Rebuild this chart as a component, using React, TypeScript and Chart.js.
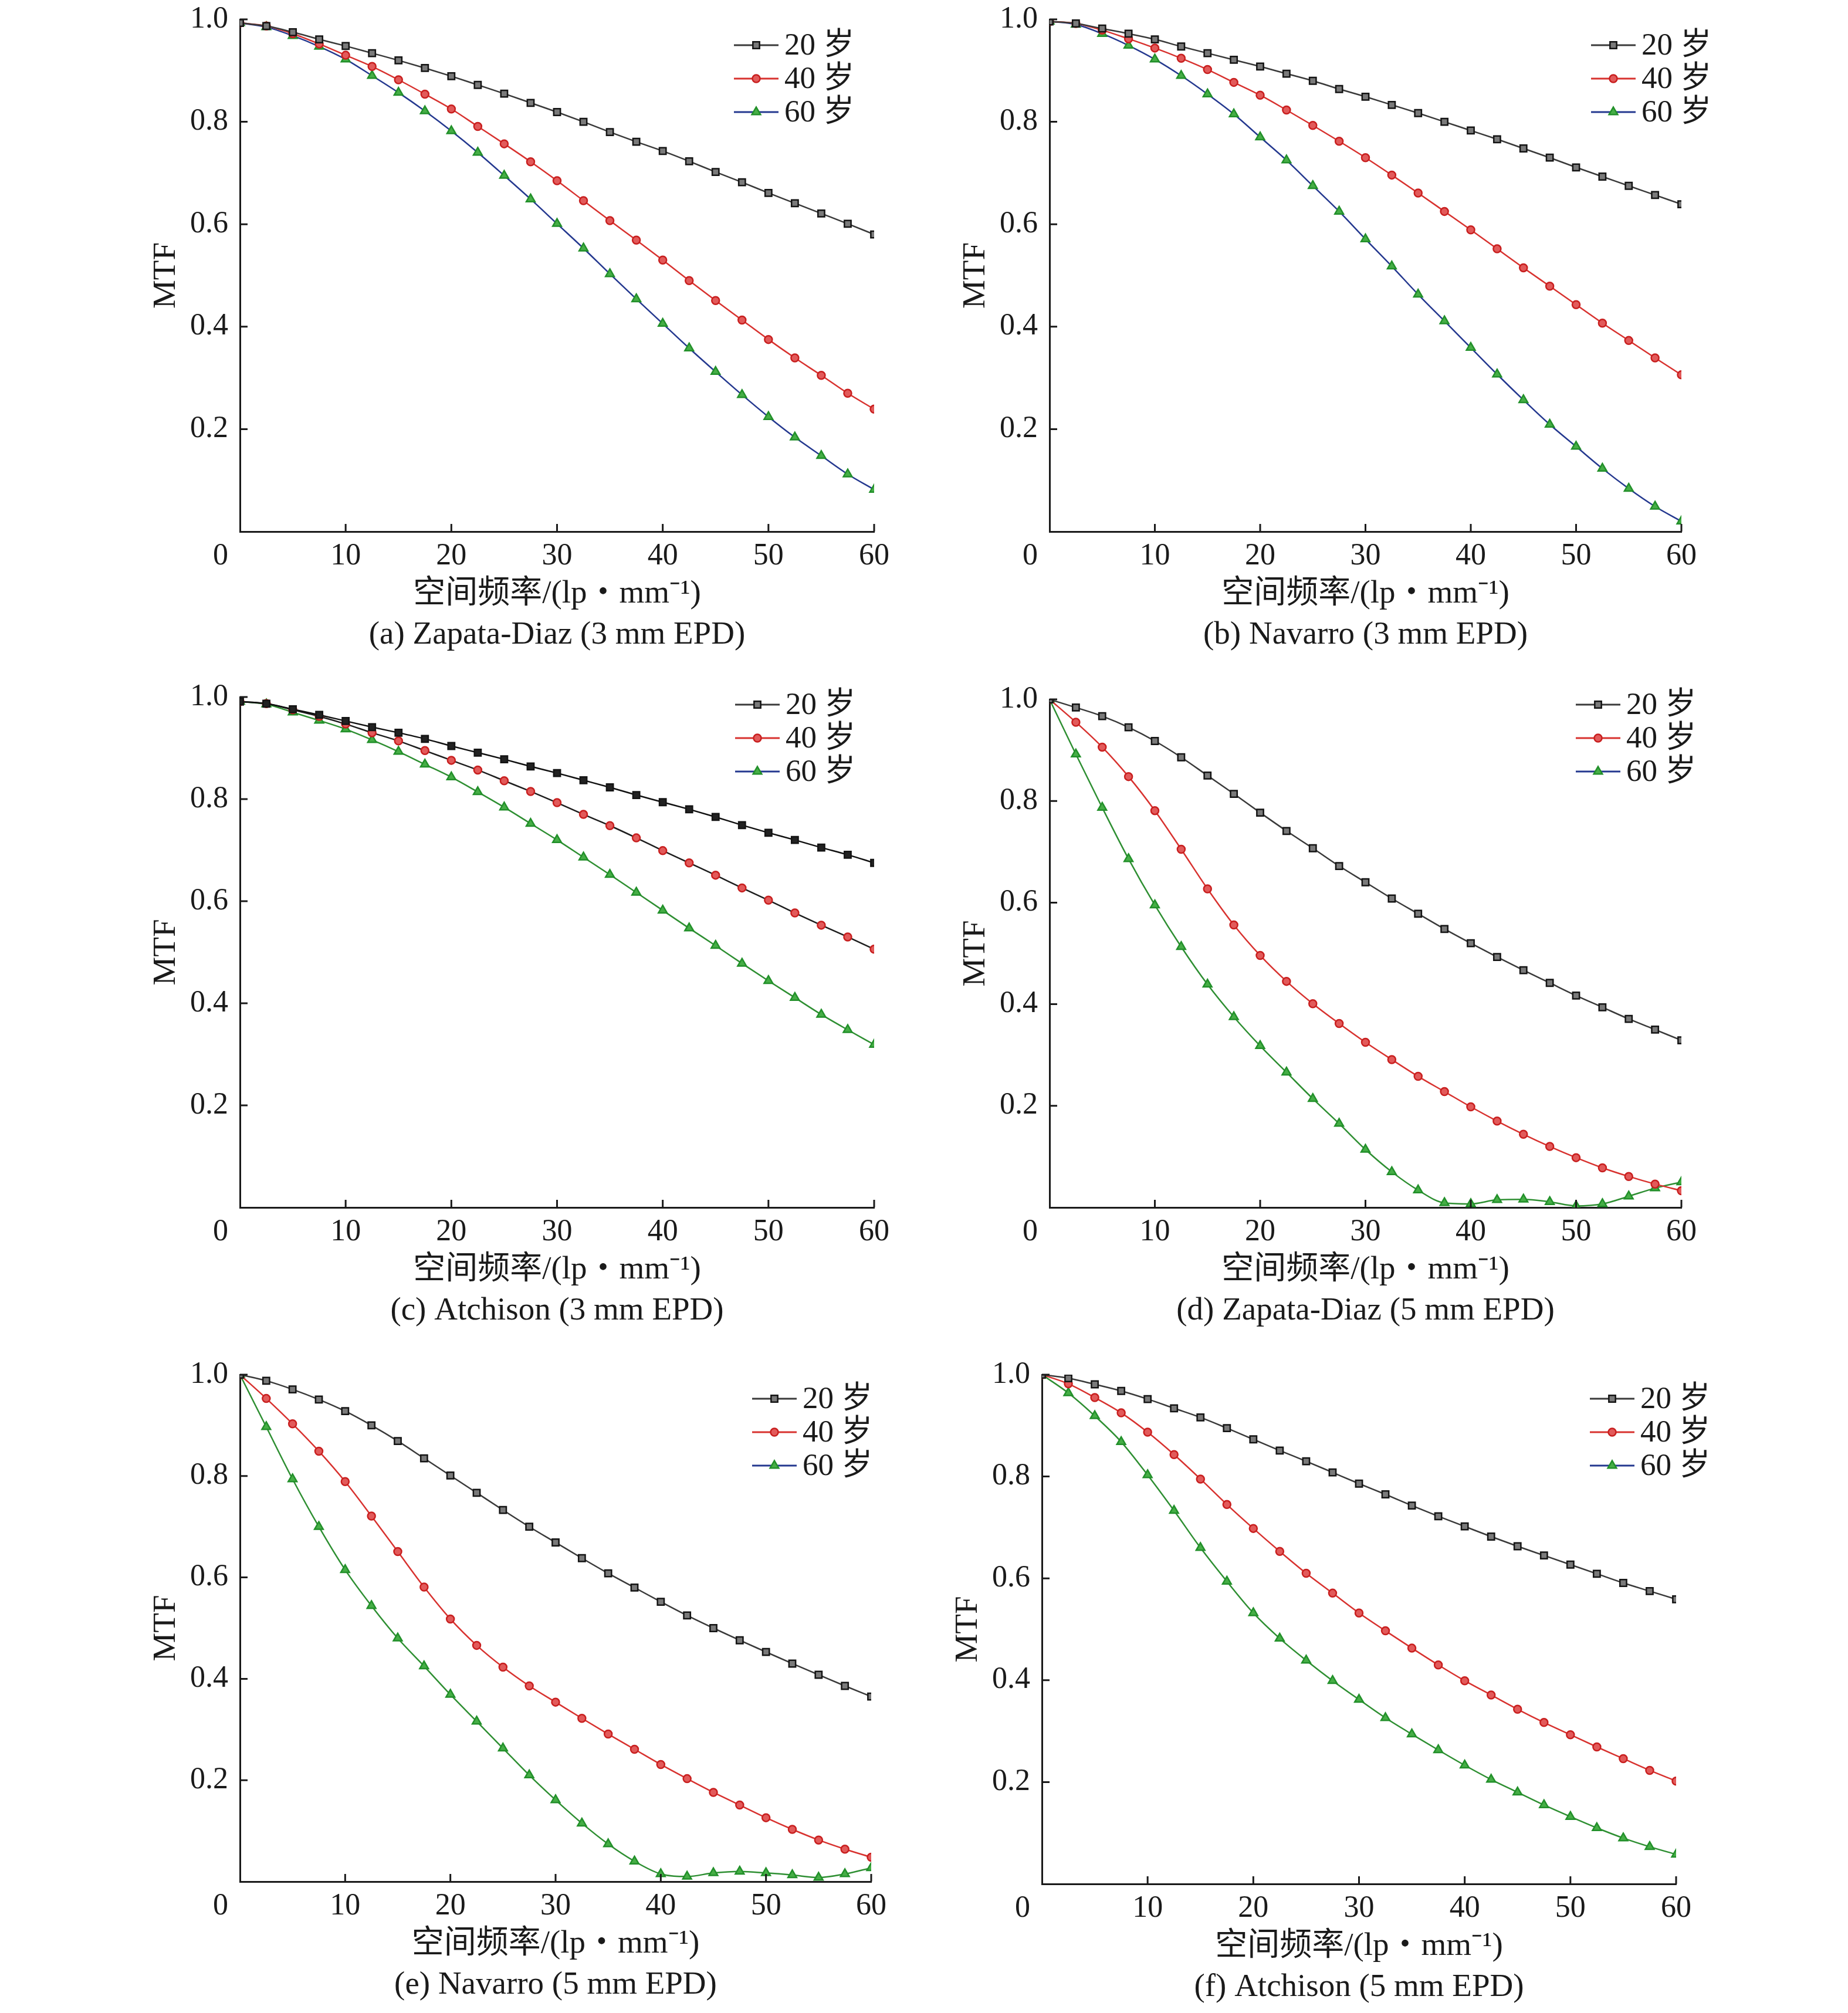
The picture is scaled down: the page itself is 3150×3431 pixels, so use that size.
import { useEffect, useRef } from 'react';
import { Chart, registerables } from 'chart.js';
import { drawPoint } from 'chart.js/helpers';

Chart.register(...registerables);

// spatial frequency samples (lp/mm)
const freq = [0, 2.5, 5, 7.5, 10, 12.5, 15, 17.5, 20, 22.5, 25, 27.5, 30, 32.5, 35, 37.5, 40, 42.5, 45, 47.5, 50, 52.5, 55, 57.5, 60];
const ageLabels = ['20 岁', '40 岁', '60 岁'];
const xTitle = '空间频率/(lp・mm⁻¹)';
const yTitle = 'MTF';

// (a) Zapata-Diaz 3 mm
const zapata3Age20 = [0.993, 0.987, 0.975, 0.961, 0.948, 0.934, 0.920, 0.905, 0.889, 0.872, 0.855, 0.837, 0.819, 0.800, 0.780, 0.761, 0.743, 0.723, 0.702, 0.682, 0.661, 0.641, 0.621, 0.601, 0.580];
const zapata3Age40 = [0.993, 0.987, 0.972, 0.952, 0.930, 0.908, 0.882, 0.854, 0.825, 0.791, 0.757, 0.722, 0.685, 0.646, 0.607, 0.569, 0.530, 0.490, 0.451, 0.413, 0.375, 0.339, 0.305, 0.270, 0.239];
const zapata3Age60 = [0.993, 0.985, 0.968, 0.947, 0.922, 0.890, 0.857, 0.821, 0.782, 0.740, 0.695, 0.649, 0.601, 0.553, 0.503, 0.454, 0.406, 0.358, 0.312, 0.267, 0.224, 0.184, 0.148, 0.112, 0.082];

// (b) Navarro 3 mm
const navarro3Age20 = [0.996, 0.992, 0.982, 0.972, 0.961, 0.947, 0.934, 0.921, 0.908, 0.894, 0.880, 0.864, 0.849, 0.833, 0.817, 0.800, 0.783, 0.766, 0.748, 0.730, 0.711, 0.693, 0.675, 0.657, 0.639];
const navarro3Age40 = [0.996, 0.992, 0.979, 0.962, 0.944, 0.924, 0.902, 0.877, 0.852, 0.823, 0.793, 0.762, 0.730, 0.696, 0.661, 0.625, 0.589, 0.552, 0.515, 0.479, 0.443, 0.407, 0.373, 0.339, 0.306];
const navarro3Age60 = [0.996, 0.990, 0.972, 0.949, 0.922, 0.890, 0.854, 0.815, 0.770, 0.725, 0.675, 0.625, 0.571, 0.518, 0.463, 0.411, 0.359, 0.307, 0.257, 0.209, 0.166, 0.123, 0.084, 0.049, 0.020];

// (c) Atchison 3 mm
const atchison3Age20 = [0.991, 0.987, 0.976, 0.965, 0.953, 0.941, 0.930, 0.918, 0.904, 0.891, 0.878, 0.864, 0.851, 0.837, 0.823, 0.808, 0.794, 0.780, 0.765, 0.749, 0.734, 0.720, 0.705, 0.691, 0.675];
const atchison3Age40 = [0.991, 0.987, 0.975, 0.962, 0.947, 0.930, 0.914, 0.895, 0.876, 0.857, 0.836, 0.815, 0.793, 0.770, 0.748, 0.724, 0.699, 0.675, 0.651, 0.626, 0.602, 0.577, 0.553, 0.530, 0.506];
const atchison3Age60 = [0.991, 0.986, 0.970, 0.954, 0.937, 0.916, 0.893, 0.868, 0.843, 0.814, 0.784, 0.752, 0.720, 0.686, 0.652, 0.617, 0.582, 0.547, 0.513, 0.478, 0.444, 0.411, 0.378, 0.348, 0.319];

// (d) Zapata-Diaz 5 mm
const zapata5Age20 = [1.0, 0.984, 0.967, 0.945, 0.918, 0.886, 0.850, 0.814, 0.777, 0.741, 0.707, 0.672, 0.640, 0.608, 0.578, 0.548, 0.520, 0.493, 0.467, 0.442, 0.417, 0.394, 0.371, 0.350, 0.329];
const zapata5Age40 = [1.0, 0.955, 0.906, 0.848, 0.781, 0.705, 0.627, 0.556, 0.496, 0.445, 0.401, 0.362, 0.325, 0.291, 0.258, 0.228, 0.198, 0.170, 0.144, 0.120, 0.098, 0.078, 0.061, 0.046, 0.033];
const zapata5Age60 = [1.0, 0.892, 0.787, 0.686, 0.595, 0.513, 0.439, 0.375, 0.318, 0.266, 0.214, 0.165, 0.114, 0.070, 0.034, 0.009, 0.007, 0.015, 0.016, 0.011, 0.003, 0.007, 0.022, 0.038, 0.050];

// (e) Navarro 5 mm
const navarro5Age20 = [1.0, 0.988, 0.971, 0.951, 0.928, 0.900, 0.869, 0.835, 0.801, 0.767, 0.733, 0.700, 0.669, 0.638, 0.608, 0.580, 0.552, 0.525, 0.500, 0.476, 0.453, 0.430, 0.408, 0.386, 0.365];
const navarro5Age40 = [1.0, 0.953, 0.903, 0.849, 0.789, 0.721, 0.651, 0.581, 0.518, 0.466, 0.423, 0.386, 0.354, 0.322, 0.291, 0.261, 0.231, 0.203, 0.176, 0.151, 0.126, 0.103, 0.082, 0.064, 0.048];
const navarro5Age60 = [1.0, 0.897, 0.794, 0.700, 0.615, 0.544, 0.480, 0.425, 0.369, 0.316, 0.263, 0.210, 0.161, 0.115, 0.074, 0.040, 0.015, 0.010, 0.017, 0.020, 0.017, 0.013, 0.008, 0.015, 0.027];

// (f) Atchison 5 mm
const atchison5Age20 = [1.0, 0.993, 0.981, 0.968, 0.952, 0.934, 0.916, 0.895, 0.873, 0.851, 0.830, 0.808, 0.786, 0.765, 0.743, 0.722, 0.702, 0.682, 0.663, 0.645, 0.627, 0.609, 0.591, 0.575, 0.559];
const atchison5Age40 = [1.0, 0.982, 0.955, 0.925, 0.887, 0.843, 0.795, 0.745, 0.698, 0.653, 0.610, 0.571, 0.532, 0.497, 0.463, 0.430, 0.399, 0.371, 0.343, 0.317, 0.293, 0.269, 0.246, 0.223, 0.202];
const atchison5Age60 = [1.0, 0.964, 0.919, 0.868, 0.803, 0.733, 0.660, 0.594, 0.532, 0.482, 0.439, 0.399, 0.362, 0.326, 0.294, 0.263, 0.233, 0.205, 0.180, 0.155, 0.132, 0.110, 0.090, 0.073, 0.058];

const FONT = '"Liberation Serif", "Noto Sans CJK SC", serif';
const INK = '#1a1a1a';
const BLUE = '#24388f';
const GREEN = '#2e8f32';
const RED = '#d8322f';
const DARK = '#3a3a3a';

// the legend keys look the same in every panel
const legendLines = [DARK, RED, BLUE];

const markers = [
  { style: 'rect', radius: 8, fill: '#7a7a7a', stroke: '#141414' },
  { style: 'circle', radius: 6.5, fill: '#e25a5a', stroke: '#c81f1f' },
  { style: 'triangle', radius: 8.5, fill: '#46ae46', stroke: '#22902a' },
];

const panels = [
  { caption: '(a) Zapata-Diaz (3 mm EPD)', series: [zapata3Age20, zapata3Age40, zapata3Age60], lines: [DARK, RED, BLUE], squareFill: '#7a7a7a' },
  { caption: '(b) Navarro (3 mm EPD)', series: [navarro3Age20, navarro3Age40, navarro3Age60], lines: [DARK, RED, BLUE], squareFill: '#7a7a7a' },
  { caption: '(c) Atchison (3 mm EPD)', series: [atchison3Age20, atchison3Age40, atchison3Age60], lines: ['#111111', '#1e1e1e', GREEN], squareFill: '#222222' },
  { caption: '(d) Zapata-Diaz (5 mm EPD)', series: [zapata5Age20, zapata5Age40, zapata5Age60], lines: [DARK, RED, GREEN], squareFill: '#7a7a7a' },
  { caption: '(e) Navarro (5 mm EPD)', series: [navarro5Age20, navarro5Age40, navarro5Age60], lines: [DARK, RED, GREEN], squareFill: '#7a7a7a' },
  { caption: '(f) Atchison (5 mm EPD)', series: [atchison5Age20, atchison5Age40, atchison5Age60], lines: [DARK, RED, GREEN], squareFill: '#7a7a7a' },
];

// canvas placement and plot-area box of every panel (pixels, relative to its canvas)
const frames = [
  { x: 0, y: 0, w: 1575, h: 1150, left: 409, right: 1490, top: 33, bottom: 906, legDx: -239, legDy: 44 },
  { x: 1575, y: 0, w: 1575, h: 1150, left: 214, right: 1291, top: 33, bottom: 906, legDx: -154, legDy: 44 },
  { x: 0, y: 1150, w: 1575, h: 1150, left: 409, right: 1490, top: 38, bottom: 908, legDx: -237, legDy: 13 },
  { x: 1575, y: 1150, w: 1575, h: 1150, left: 214, right: 1291, top: 42, bottom: 908, legDx: -180, legDy: 9 },
  { x: 0, y: 2300, w: 1575, h: 1131, left: 409, right: 1485, top: 43, bottom: 907, legDx: -203, legDy: 41 },
  { x: 1575, y: 2300, w: 1575, h: 1131, left: 201, right: 1282, top: 43, bottom: 911, legDx: -147, legDy: 41 },
];

const Y_AXIS_W = 190;
const CAPTION_SIZE = 55;
const TICK_SIZE = 52;

function MtfPanel({ panel, frame }: { panel: typeof panels[number]; frame: typeof frames[number] }) {
  const canvasRef = useRef<HTMLCanvasElement>(null);

  useEffect(() => {
    if (!canvasRef.current) return;
    const lh = CAPTION_SIZE * 1.2;
    const captionY = frame.bottom + 177;
    const xAxisH = captionY - lh / 2 - frame.bottom;
    const fills = markers.map((m, i) => (i === 0 ? panel.squareFill : m.fill));

    const decor = {
      id: 'decor',
      afterDraw(chart: Chart) {
        const { ctx, chartArea } = chart;
        const xs = chart.scales.x;
        const ys = chart.scales.y;
        ctx.save();
        // inner tick marks
        ctx.strokeStyle = INK;
        ctx.lineWidth = 3;
        ctx.beginPath();
        xs.ticks.forEach((t) => {
          if (t.value === 0) return;
          const px = xs.getPixelForValue(t.value);
          ctx.moveTo(px, chartArea.bottom);
          ctx.lineTo(px, chartArea.bottom - 13);
        });
        ys.ticks.forEach((t) => {
          if (t.value === 0) return;
          const py = ys.getPixelForValue(t.value);
          ctx.moveTo(chartArea.left, py);
          ctx.lineTo(chartArea.left + 13, py);
        });
        ctx.stroke();

        // shared origin label
        ctx.fillStyle = INK;
        ctx.font = `${TICK_SIZE}px ${FONT}`;
        ctx.textAlign = 'center';
        ctx.textBaseline = 'middle';
        ctx.fillText('0', chartArea.left - 33, chartArea.bottom + 11 + TICK_SIZE * 0.6);

        // caption, centred under the plot area
        ctx.font = `${CAPTION_SIZE}px ${FONT}`;
        ctx.fillText(panel.caption, (chartArea.left + chartArea.right) / 2, captionY);

        // legend: line sample with marker in the middle
        const lx = chartArea.right + frame.legDx;
        ctx.font = `53px ${FONT}`;
        ctx.textAlign = 'left';
        chart.data.datasets.forEach((ds: any, i: number) => {
          const ly = chartArea.top + frame.legDy + i * 57;
          ctx.strokeStyle = legendLines[i];
          ctx.lineWidth = 3;
          ctx.beginPath();
          ctx.moveTo(lx, ly);
          ctx.lineTo(lx + 76, ly);
          ctx.stroke();
          const m = markers[i];
          ctx.fillStyle = m.fill;
          ctx.strokeStyle = m.stroke;
          ctx.lineWidth = 2.5;
          drawPoint(ctx, { pointStyle: m.style as any, radius: m.radius, rotation: 0, borderWidth: 2.5 }, lx + 38, ly);
          ctx.fillStyle = INK;
          ctx.fillText(ds.label, lx + 86, ly + 2);
        });
        ctx.restore();
      },
    };

    const chart = new Chart(canvasRef.current, {
      type: 'line',
      data: {
        datasets: panel.series.map((values, i) => ({
          label: ageLabels[i],
          data: values.map((v, j) => ({ x: freq[j], y: v })),
          borderColor: panel.lines[i],
          borderWidth: 2.5,
          cubicInterpolationMode: 'monotone' as const,
          pointStyle: markers[i].style as any,
          pointRadius: markers[i].radius,
          pointBackgroundColor: fills[i],
          pointBorderColor: markers[i].stroke,
          pointBorderWidth: 2.5,
        })),
      },
      options: {
        animation: false,
        responsive: false,
        devicePixelRatio: 1,
        layout: {
          padding: {
            left: frame.left - Y_AXIS_W,
            top: frame.top,
            right: frame.w - frame.right,
            bottom: frame.h - (captionY - lh / 2),
          },
        },
        plugins: {
          legend: { display: false },
          tooltip: { enabled: false },
          title: { display: false },
        },
        scales: {
          x: {
            type: 'linear',
            min: 0,
            max: 60,
            afterFit: (s: any) => { s.height = xAxisH; s.paddingLeft = 0; s.paddingRight = 0; },
            grid: { display: false, drawTicks: false },
            border: { display: true, color: INK, width: 3 },
            ticks: {
              stepSize: 10,
              padding: 11,
              color: INK,
              font: { family: FONT, size: TICK_SIZE },
              maxRotation: 0,
              callback: (v: any) => (v === 0 ? '' : String(v)),
            },
            title: {
              display: true,
              text: xTitle,
              color: INK,
              font: { family: FONT, size: CAPTION_SIZE },
              padding: { top: 0, bottom: xAxisH - lh / 2 - 107 },
            },
          },
          y: {
            type: 'linear',
            min: 0,
            max: 1,
            afterFit: (s: any) => { s.width = Y_AXIS_W; s.paddingTop = 0; s.paddingBottom = 0; },
            grid: { display: false, drawTicks: false },
            border: { display: true, color: INK, width: 3 },
            ticks: {
              stepSize: 0.2,
              padding: 20,
              color: INK,
              font: { family: FONT, size: TICK_SIZE },
              callback: (v: any) => (v === 0 ? '' : Number(v).toFixed(1)),
            },
            title: {
              display: true,
              text: yTitle,
              color: INK,
              font: { family: FONT, size: CAPTION_SIZE },
              padding: { top: 65 - lh / 2, bottom: 0 },
            },
          },
        },
      },
      plugins: [decor],
    });

    return () => chart.destroy();
  }, [panel, frame]);

  return (
    <canvas
      ref={canvasRef}
      width={frame.w}
      height={frame.h}
      style={{ position: 'absolute', left: frame.x, top: frame.y, width: frame.w, height: frame.h }}
    />
  );
}

export default function App() {
  return (
    <div style={{ position: 'absolute', left: 0, top: 0, width: 3150, height: 3431, background: '#fff' }}>
      {panels.map((p, i) => (
        <MtfPanel key={i} panel={p} frame={frames[i]} />
      ))}
    </div>
  );
}
